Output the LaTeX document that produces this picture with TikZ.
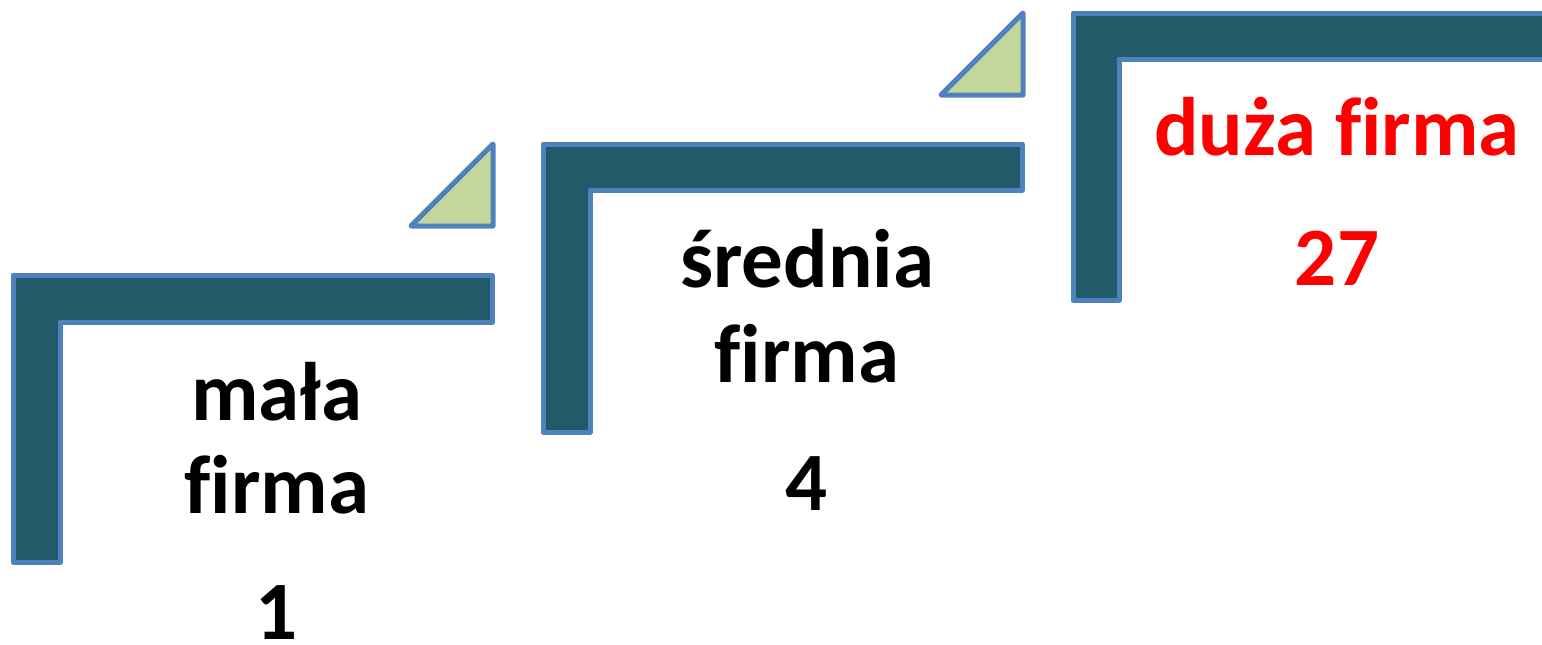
\documentclass[tikz,border=0pt]{standalone}
\usepackage{fontspec}
\setmainfont{Carlito}[Ligatures=NoCommon]
\definecolor{stepfill}{HTML}{225A6A}
\definecolor{stepline}{HTML}{4F81BD}
\definecolor{trifill}{HTML}{C3D69B}
\definecolor{bigred}{HTML}{FF0000}
\tikzset{
  stepshape/.style={fill=stepfill, draw=stepline, line width=5pt, line join=round},
  trishape/.style={fill=trifill, draw=stepline, line width=5pt, line join=round},
  lbl/.style={anchor=base, inner sep=0pt, font=\fontsize{83}{93}\selectfont\bfseries}
}
\begin{document}
\begin{tikzpicture}[x=1pt,y=-1pt]
\useasboundingbox (0,0) rectangle (1542,645);
\clip (0,0) rectangle (1542,645);
% steps
\draw[stepshape] (13,275) -- (492,275) -- (492,322) -- (60,322) -- (60,562) -- (13,562) -- cycle;
\draw[stepshape] (543,144) -- (1022,144) -- (1022,190) -- (590,190) -- (590,432) -- (543,432) -- cycle;
\draw[stepshape] (1073,13) -- (1570,13) -- (1570,59) -- (1119,59) -- (1119,300) -- (1073,300) -- cycle;
% triangles
\draw[trishape] (411,226) -- (493,226) -- (493,144) -- cycle;
\draw[trishape] (941,95) -- (1023,95) -- (1023,13) -- cycle;
% labels
\node[lbl] (m1) at (277,420) {mała};
\node[lbl] (m2) at (277,513) {firma};
\node[lbl] (m3) at (277,639) {1};
\node[lbl] (s1) at (807,287) {średnia};
\node[lbl] (s2) at (807,382) {firma};
\node[lbl] (s3) at (807,510) {4};
\node[lbl, text=bigred] (d1) at (1337,155) {duża firma};
\node[lbl, text=bigred] (d2) at (1337,285) {27};
\end{tikzpicture}
\end{document}
